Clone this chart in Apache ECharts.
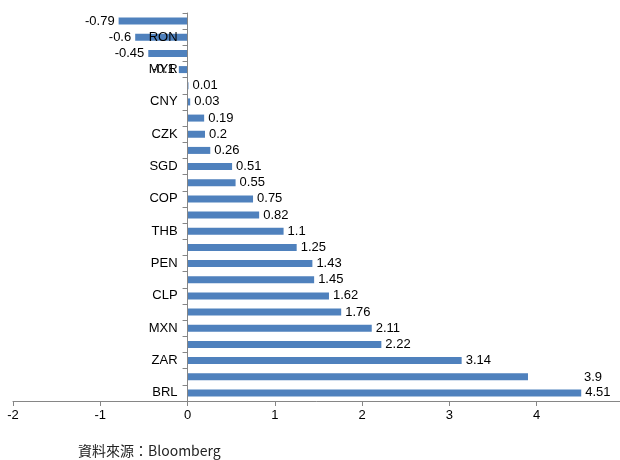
<!DOCTYPE html>
<html>
<head>
<meta charset="utf-8">
<script src="https://cdn.jsdelivr.net/npm/echarts@6/dist/echarts.min.js"></script>
<style>
html,body{margin:0;padding:0;background:#fff;}
#c{width:620px;height:460px;}
</style>
</head>
<body>
<div id="c"></div>
<script>
var categories = ['', 'RON', '', 'MYR', '', 'CNY', '', 'CZK', '', 'SGD', '', 'COP', '', 'THB', '', 'PEN', '', 'CLP', '', 'MXN', '', 'ZAR', '', 'BRL'];
var values = [-0.79, -0.6, -0.45, -0.1, 0.01, 0.03, 0.19, 0.2, 0.26, 0.51, 0.55, 0.75, 0.82, 1.1, 1.25, 1.43, 1.45, 1.62, 1.76, 2.11, 2.22, 3.14, 3.9, 4.51];
var xTicks = [-2, -1, 0, 1, 2, 3, 4];
var sourceText = '資料來源：Bloomberg';

var font = '"Liberation Sans", Arial, sans-serif';
var gridLeft = 13, gridRight = -4, xMin = -2, xMax = 5;
var gridWidth = 620 - gridLeft - gridRight;
var zeroOffset = (0 - xMin) / (xMax - xMin) * gridWidth;

var chart = echarts.init(document.getElementById('c'));
var data = values.map(function (v, i) {
  var item = {
    value: v,
    label: {
      position: v < 0 ? 'left' : 'right'
    }
  };
  if (i === 22) { item.label.offset = [52, 1]; }
  return item;
});
chart.setOption({
  animation: false,
  grid: { left: gridLeft, right: gridRight, top: 13, bottom: 59, outerBoundsMode: 'none', containLabel: false },
  xAxis: {
    type: 'value',
    min: xMin, max: xMax, interval: 1,
    axisLine: { show: true, lineStyle: { color: '#868686', width: 1 } },
    axisTick: { show: true, length: 5, lineStyle: { color: '#868686' } },
    splitLine: { show: false },
    axisLabel: {
      showMaxLabel: false,
      color: '#000', fontSize: 13, fontFamily: font, margin: 8,
      formatter: function (v) { return xTicks.indexOf(v) >= 0 ? String(v) : ''; }
    }
  },
  yAxis: {
    type: 'category',
    inverse: true,
    data: categories,
    offset: -zeroOffset,
    z: 5,
    axisLine: { show: true, onZero: false, lineStyle: { color: '#868686', width: 1 } },
    axisTick: { show: true, interval: 0, length: 5, lineStyle: { color: '#868686' } },
    axisLabel: { interval: 0, color: '#000', fontSize: 13, fontFamily: font, margin: 10 }
  },
  series: [{
    type: 'bar',
    data: data,
    barWidth: 7,
    itemStyle: { color: '#4F81BD' },
    label: {
      show: true,
      color: '#000', fontSize: 13, fontFamily: font, distance: 4
    }
  }],
  graphic: [{
    type: 'text',
    left: 78, top: 444,
    style: { text: sourceText, fill: '#222', fontSize: 14, fontFamily: '"Noto Sans CJK TC", "Noto Sans", sans-serif' }
  }]
});
</script>
</body>
</html>
